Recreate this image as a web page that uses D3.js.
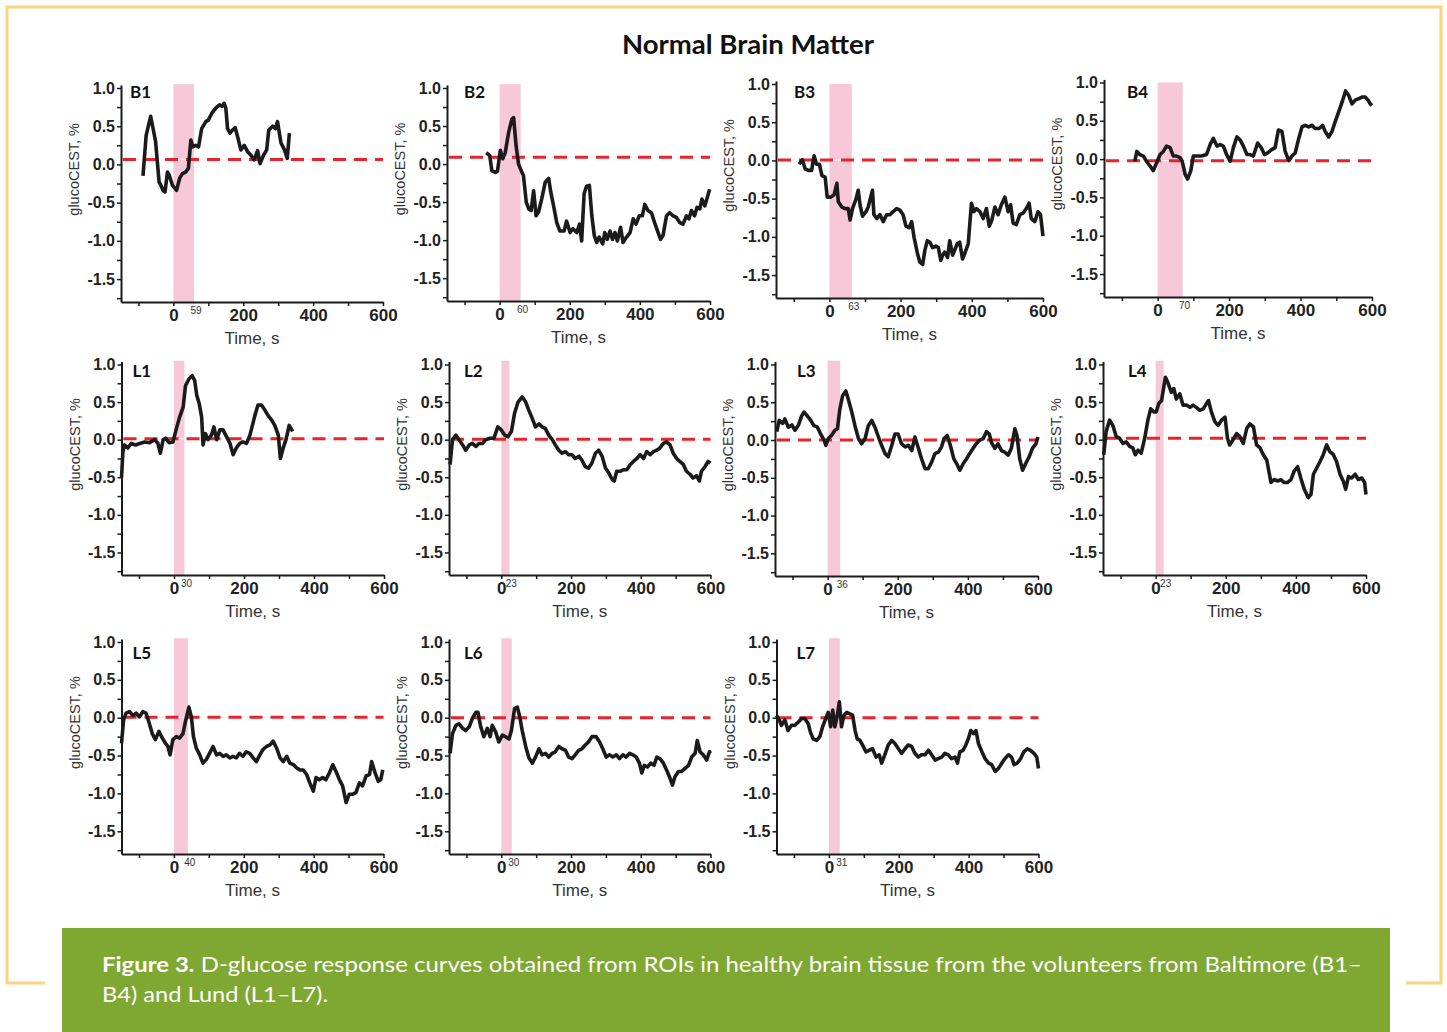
<!DOCTYPE html>
<html>
<head>
<meta charset="utf-8">
<script src="https://cdn.jsdelivr.net/npm/d3@7"></script>
<style>
  body { margin: 0; background: #fff; }
  svg { display: block; }
  .tick text { font-family: "Liberation Sans", Arial, sans-serif; font-weight: bold; font-size: 16px; fill: #222; }
</style>
</head>
<body>
<svg id="fig" width="1447" height="1032"></svg>
<script>
// Panel names, end of glucose infusion (s) and baseline level of the red dashed line
const panelIds = ["B1", "B2", "B3", "B4", "L1", "L2", "L3", "L4", "L5", "L6", "L7"];
const infusionEnd = [59, 60, 63, 70, 30, 23, 36, 23, 40, 30, 31];
const baselineLevel = [0.066, 0.09, 0.004, -0.02, 0.013, 0.005, 0.0, 0.02, 0.005, 0.0, 0.0];

// Axis ticks
const xTickValues = [-100, 0, 100, 200, 300, 400, 500, 600];
const xTickLabels = ["", "0", "", "200", "", "400", "", "600"];
const yTickValues = [-1.75, -1.5, -1.25, -1.0, -0.75, -0.5, -0.25, 0.0, 0.25, 0.5, 0.75, 1.0];
const yTickLabels = ["", "-1.5", "", "-1.0", "", "-0.5", "", "0.0", "", "0.5", "", "1.0"];

// glucoCEST response curves, [time s, glucoCEST %]
const curveB1 = [[-87,-0.15],[-78,0.38],[-65,0.63],[-51,0.30],[-41,-0.23],[-36,-0.27],[-30,-0.34],[-24,-0.36],[-17,-0.10],[-12,-0.14],[-3,-0.27],[9,-0.34],[18,-0.18],[26,-0.12],[35,-0.10],[43,-0.05],[50,0.32],[56,0.23],[64,0.25],[72,0.23],[81,0.47],[93,0.56],[100,0.58],[110,0.67],[122,0.74],[132,0.78],[139,0.76],[145,0.80],[150,0.74],[155,0.47],[162,0.41],[169,0.45],[177,0.48],[184,0.36],[193,0.19],[203,0.25],[212,0.17],[222,0.12],[231,0.06],[241,0.18],[248,0.01],[258,0.12],[267,0.19],[273,0.45],[284,0.50],[292,0.47],[298,0.56],[308,0.28],[318,0.19],[326,0.08],[332,0.41]];
const curveB2 = [[-38,0.15],[-28,0.11],[-22,-0.09],[-12,-0.11],[-6,-0.09],[2,0.18],[9,0.07],[16,0.15],[26,0.42],[35,0.59],[40,0.61],[47,0.24],[54,0.0],[62,-0.09],[68,-0.15],[76,-0.50],[83,-0.59],[90,-0.61],[97,-0.35],[104,-0.68],[111,-0.63],[120,-0.46],[130,-0.24],[140,-0.19],[146,-0.37],[154,-0.55],[163,-0.77],[172,-0.88],[184,-0.88],[191,-0.75],[201,-0.90],[209,-0.85],[220,-0.90],[228,-0.79],[234,-1.01],[241,-0.39],[248,-0.29],[256,-0.28],[263,-0.68],[270,-0.94],[277,-1.03],[284,-0.96],[294,-1.05],[300,-0.90],[307,-0.99],[315,-0.88],[322,-0.99],[329,-0.90],[336,-1.01],[345,-0.83],[352,-1.03],[362,-0.96],[372,-0.90],[381,-0.72],[389,-0.79],[398,-0.68],[407,-0.68],[414,-0.53],[423,-0.61],[433,-0.64],[442,-0.77],[452,-0.90],[459,-0.99],[466,-0.94],[476,-0.68],[485,-0.64],[495,-0.68],[504,-0.70],[514,-0.77],[523,-0.79],[533,-0.68],[540,-0.72],[547,-0.61],[556,-0.68],[563,-0.57],[571,-0.59],[577,-0.46],[585,-0.55],[591,-0.46],[599,-0.33]];
const curveB3 = [[-85,-0.05],[-76,0.01],[-68,-0.11],[-59,-0.13],[-50,-0.13],[-43,0.06],[-36,-0.05],[-28,-0.05],[-21,-0.20],[-12,-0.22],[-6,-0.48],[4,-0.48],[13,-0.45],[21,-0.30],[25,-0.54],[35,-0.61],[44,-0.63],[53,-0.63],[58,-0.78],[65,-0.63],[75,-0.50],[81,-0.39],[86,-0.58],[93,-0.73],[103,-0.67],[109,-0.61],[121,-0.39],[125,-0.71],[133,-0.76],[142,-0.71],[151,-0.80],[161,-0.71],[170,-0.71],[179,-0.67],[189,-0.63],[198,-0.65],[207,-0.71],[215,-0.86],[224,-0.88],[231,-0.80],[238,-1.01],[247,-1.21],[254,-1.33],[262,-1.36],[268,-1.18],[275,-1.05],[282,-1.07],[290,-1.14],[299,-1.12],[306,-1.14],[313,-1.31],[318,-1.24],[324,-1.20],[332,-1.27],[338,-1.05],[346,-1.24],[353,-1.16],[359,-1.09],[366,-1.07],[374,-1.29],[380,-1.22],[390,-1.09],[399,-0.56],[406,-0.67],[413,-0.63],[423,-0.67],[432,-0.76],[441,-0.63],[449,-0.86],[455,-0.80],[465,-0.61],[474,-0.71],[483,-0.58],[493,-0.48],[502,-0.67],[509,-0.58],[516,-0.82],[525,-0.84],[535,-0.71],[544,-0.69],[553,-0.63],[561,-0.56],[567,-0.76],[577,-0.80],[586,-0.67],[593,-0.71],[600,-0.99]];
const curveB4 = [[-64,-0.03],[-58,0.10],[-50,0.06],[-40,0.04],[-31,-0.03],[-21,-0.09],[-12,-0.15],[-3,-0.05],[7,0.06],[16,0.10],[25,0.17],[35,0.15],[44,0.04],[53,0.04],[63,0.02],[69,-0.03],[77,-0.20],[84,-0.26],[93,-0.15],[100,0.04],[109,0.04],[123,0.04],[137,0.06],[147,0.19],[156,0.27],[166,0.17],[175,0.19],[184,0.17],[193,0.06],[203,-0.03],[212,0.15],[222,0.29],[231,0.25],[240,0.17],[250,0.06],[259,0.06],[268,0.04],[280,0.21],[290,0.15],[299,0.06],[308,0.08],[318,0.12],[329,0.15],[338,0.38],[348,0.36],[357,0.10],[367,-0.02],[376,0.04],[385,0.08],[395,0.27],[404,0.42],[413,0.44],[423,0.42],[432,0.44],[441,0.40],[452,0.40],[462,0.44],[469,0.36],[479,0.29],[488,0.36],[497,0.49],[507,0.62],[516,0.74],[526,0.89],[535,0.83],[544,0.72],[553,0.77],[563,0.79],[572,0.81],[581,0.81],[589,0.77],[595,0.72],[600,0.70]];
const curveL1 = [[-150,-0.51],[-146,-0.16],[-141,-0.07],[-132,-0.11],[-122,-0.05],[-110,-0.07],[-98,-0.05],[-84,-0.03],[-70,-0.04],[-55,0.0],[-46,-0.05],[-39,-0.18],[-31,0.0],[-24,0.02],[-14,-0.04],[-3,-0.03],[7,0.15],[16,0.30],[26,0.43],[33,0.72],[43,0.81],[52,0.85],[59,0.79],[65,0.59],[72,0.48],[79,0.30],[83,-0.07],[90,0.08],[97,0.0],[107,0.06],[114,0.17],[122,0.0],[131,0.13],[140,0.13],[150,0.04],[160,-0.05],[169,-0.20],[178,-0.11],[188,-0.05],[197,-0.03],[207,-0.05],[217,0.06],[224,0.19],[231,0.32],[240,0.46],[250,0.46],[260,0.39],[269,0.32],[279,0.26],[288,0.19],[298,0.06],[304,-0.25],[312,-0.11],[320,0.0],[329,0.19],[339,0.11]];
const curveL2 = [[-147,-0.33],[-140,0.0],[-130,0.06],[-121,0.0],[-111,-0.07],[-102,-0.14],[-92,-0.07],[-83,-0.05],[-73,-0.09],[-64,-0.05],[-54,-0.05],[-45,0.0],[-32,0.02],[-21,0.02],[-10,0.17],[0,0.13],[10,0.06],[19,0.04],[29,0.11],[38,0.35],[48,0.50],[60,0.57],[70,0.50],[79,0.39],[89,0.28],[98,0.17],[108,0.21],[117,0.17],[126,0.15],[136,0.06],[146,0.0],[155,-0.07],[165,-0.14],[174,-0.18],[184,-0.16],[193,-0.20],[203,-0.20],[212,-0.25],[223,-0.22],[231,-0.27],[241,-0.36],[250,-0.38],[260,-0.31],[270,-0.18],[279,-0.14],[289,-0.22],[299,-0.38],[308,-0.44],[318,-0.53],[324,-0.55],[331,-0.42],[341,-0.42],[350,-0.40],[360,-0.40],[370,-0.33],[379,-0.29],[389,-0.25],[398,-0.20],[408,-0.25],[417,-0.16],[427,-0.20],[436,-0.16],[446,-0.14],[455,-0.11],[465,-0.05],[474,-0.03],[484,-0.07],[493,-0.18],[503,-0.25],[512,-0.29],[522,-0.33],[531,-0.42],[541,-0.46],[550,-0.51],[560,-0.48],[568,-0.55],[574,-0.42],[584,-0.36],[593,-0.29],[600,-0.31]];
const curveL3 = [[-145,0.11],[-138,0.26],[-128,0.22],[-122,0.28],[-112,0.17],[-102,0.20],[-93,0.13],[-83,0.20],[-74,0.32],[-67,0.37],[-58,0.32],[-48,0.26],[-39,0.19],[-29,0.17],[-20,0.08],[-10,0.0],[-5,-0.07],[2,0.02],[11,0.06],[21,0.13],[28,0.15],[35,0.41],[43,0.59],[52,0.65],[59,0.54],[69,0.37],[78,0.19],[88,0.02],[97,-0.05],[107,0.02],[116,0.19],[126,0.26],[135,0.17],[145,0.04],[154,-0.07],[164,-0.18],[173,-0.22],[183,-0.07],[192,0.08],[201,0.08],[211,-0.05],[221,-0.09],[230,-0.07],[240,-0.14],[249,0.04],[259,-0.11],[268,-0.25],[278,-0.38],[287,-0.38],[297,-0.29],[306,-0.18],[316,-0.16],[325,-0.09],[332,0.02],[341,0.06],[350,-0.07],[360,-0.25],[370,-0.33],[377,-0.40],[387,-0.31],[396,-0.25],[405,-0.18],[415,-0.11],[424,-0.05],[434,0.0],[444,0.02],[453,0.11],[461,0.08],[467,-0.03],[477,-0.11],[486,-0.05],[496,-0.14],[505,-0.16],[515,-0.20],[524,-0.11],[534,0.15],[540,0.06],[548,-0.25],[556,-0.40],[565,-0.31],[575,-0.22],[584,-0.11],[594,-0.05],[600,0.04]];
const curveL4 = [[-148,-0.20],[-141,0.11],[-131,0.26],[-122,0.19],[-112,0.04],[-103,0.02],[-93,-0.05],[-84,-0.03],[-74,-0.09],[-65,-0.11],[-58,-0.20],[-50,-0.14],[-41,-0.18],[-31,0.02],[-22,0.26],[-14,0.41],[-5,0.37],[2,0.37],[9,0.48],[17,0.52],[24,0.72],[28,0.83],[35,0.76],[45,0.63],[52,0.68],[59,0.54],[69,0.61],[78,0.46],[88,0.46],[98,0.43],[107,0.46],[116,0.43],[126,0.39],[136,0.41],[145,0.48],[151,0.52],[159,0.37],[169,0.24],[178,0.19],[188,0.26],[198,0.30],[205,0.02],[211,-0.07],[221,0.0],[231,0.08],[240,0.04],[250,-0.05],[260,0.15],[269,0.21],[279,0.17],[288,-0.07],[298,-0.11],[307,-0.20],[317,-0.27],[323,-0.42],[329,-0.57],[338,-0.53],[348,-0.55],[357,-0.53],[367,-0.57],[376,-0.57],[386,-0.53],[395,-0.42],[405,-0.36],[414,-0.51],[424,-0.66],[435,-0.77],[443,-0.73],[450,-0.46],[459,-0.38],[469,-0.29],[478,-0.20],[488,-0.07],[497,-0.16],[507,-0.20],[516,-0.29],[526,-0.46],[535,-0.55],[542,-0.66],[550,-0.49],[559,-0.51],[569,-0.46],[578,-0.53],[588,-0.51],[596,-0.57],[600,-0.73]];
const curveL5 = [[-150,-0.34],[-144,-0.03],[-137,0.06],[-127,0.08],[-118,0.03],[-108,0.06],[-99,0.01],[-89,0.08],[-80,0.06],[-72,-0.05],[-62,-0.21],[-53,-0.29],[-43,-0.18],[-33,-0.27],[-24,-0.34],[-17,-0.38],[-11,-0.49],[-3,-0.29],[7,-0.25],[16,-0.27],[26,-0.21],[33,-0.05],[43,0.14],[50,0.01],[56,-0.25],[64,-0.40],[74,-0.49],[83,-0.60],[93,-0.55],[102,-0.47],[112,-0.38],[122,-0.49],[131,-0.47],[141,-0.51],[150,-0.49],[160,-0.53],[169,-0.51],[179,-0.53],[188,-0.47],[198,-0.51],[207,-0.45],[217,-0.47],[227,-0.53],[236,-0.58],[246,-0.49],[255,-0.42],[265,-0.38],[275,-0.36],[284,-0.31],[294,-0.40],[304,-0.53],[313,-0.58],[323,-0.51],[332,-0.60],[342,-0.62],[351,-0.66],[361,-0.69],[370,-0.69],[380,-0.75],[389,-0.86],[399,-0.97],[407,-0.79],[416,-0.82],[426,-0.79],[435,-0.82],[445,-0.73],[455,-0.62],[464,-0.71],[474,-0.82],[483,-0.90],[493,-1.12],[502,-1.01],[512,-1.01],[521,-0.99],[531,-0.86],[540,-0.90],[550,-0.77],[560,-0.75],[566,-0.58],[576,-0.73],[585,-0.84],[592,-0.82],[598,-0.69]];
const curveL6 = [[-147,-0.47],[-140,-0.21],[-130,-0.10],[-121,-0.08],[-111,-0.14],[-102,-0.17],[-92,-0.12],[-83,-0.01],[-73,0.07],[-67,0.07],[-59,-0.12],[-50,-0.25],[-40,-0.14],[-32,-0.25],[-26,-0.10],[-16,-0.19],[-7,-0.32],[3,-0.23],[12,-0.25],[22,-0.28],[29,-0.17],[38,0.12],[46,0.14],[53,0.01],[60,-0.17],[70,-0.38],[79,-0.53],[89,-0.60],[98,-0.52],[108,-0.41],[117,-0.49],[127,-0.47],[136,-0.52],[146,-0.47],[155,-0.45],[165,-0.38],[174,-0.41],[184,-0.43],[193,-0.52],[203,-0.54],[212,-0.49],[222,-0.43],[231,-0.41],[241,-0.36],[250,-0.32],[260,-0.25],[272,-0.25],[282,-0.32],[291,-0.41],[301,-0.52],[310,-0.49],[320,-0.52],[330,-0.49],[339,-0.54],[349,-0.49],[358,-0.52],[368,-0.47],[377,-0.49],[387,-0.52],[396,-0.60],[403,-0.73],[410,-0.63],[419,-0.65],[429,-0.60],[438,-0.63],[446,-0.52],[455,-0.54],[465,-0.60],[474,-0.69],[484,-0.80],[491,-0.89],[498,-0.78],[508,-0.71],[517,-0.71],[527,-0.67],[537,-0.63],[546,-0.52],[556,-0.47],[562,-0.30],[570,-0.45],[579,-0.49],[589,-0.56],[597,-0.45],[600,-0.47]];
const curveL7 = [[-150,0.03],[-142,-0.03],[-136,-0.10],[-126,-0.03],[-117,-0.17],[-107,-0.10],[-98,-0.10],[-88,-0.06],[-78,-0.01],[-69,-0.01],[-59,-0.08],[-53,-0.19],[-45,-0.28],[-35,-0.30],[-26,-0.25],[-18,-0.12],[-9,-0.01],[-2,0.07],[5,-0.12],[11,0.10],[17,-0.12],[24,0.03],[30,0.21],[36,-0.12],[43,0.03],[51,0.07],[60,0.05],[68,0.03],[75,-0.17],[81,-0.28],[89,-0.30],[96,-0.36],[106,-0.45],[115,-0.43],[125,-0.41],[135,-0.52],[144,-0.49],[151,-0.60],[160,-0.49],[170,-0.36],[180,-0.30],[189,-0.34],[199,-0.41],[208,-0.47],[218,-0.41],[227,-0.36],[237,-0.38],[246,-0.47],[256,-0.52],[265,-0.49],[275,-0.49],[285,-0.43],[294,-0.49],[304,-0.56],[313,-0.54],[323,-0.52],[332,-0.47],[342,-0.49],[351,-0.54],[361,-0.52],[368,-0.60],[375,-0.45],[384,-0.43],[392,-0.36],[399,-0.28],[406,-0.17],[414,-0.21],[421,-0.17],[428,-0.34],[438,-0.45],[447,-0.54],[457,-0.60],[466,-0.62],[476,-0.71],[485,-0.67],[495,-0.60],[504,-0.54],[514,-0.49],[523,-0.52],[530,-0.62],[539,-0.60],[549,-0.54],[558,-0.45],[568,-0.41],[577,-0.43],[587,-0.47],[595,-0.52],[600,-0.67]];

const curves = [curveB1, curveB2, curveB3, curveB4, curveL1, curveL2, curveL3, curveL4, curveL5, curveL6, curveL7];

// Plot frames on the page: [left, right, y of 1.0, bottom]
const frames = [
  [121, 383, 88, 302], [447, 710, 88, 301], [776, 1043, 84, 298], [1104, 1372, 82.5, 297],
  [121.5, 384, 364.5, 575], [449, 710.5, 364.5, 575], [775, 1038, 364.5, 576], [1103, 1366, 364.5, 575],
  [121.5, 383.5, 642, 854], [449, 710.5, 642, 854], [776.5, 1038.5, 642, 854]
];
const labelDx = [9, 17, 18, 23, 11, 15, 22, 25, 11, 15, 20];
const labelY = [98, 98, 98, 98, 377, 377, 377, 377, 659, 659, 659];

var svg = d3.select("#fig");

// Page frame
svg.append("path")
  .attr("d", "M45,983 H7 V7 H1441 V983 H1406")
  .attr("fill", "none")
  .attr("stroke", "#fcd47e")
  .attr("stroke-width", 3);

svg.append("text")
  .attr("x", 748)
  .attr("y", 54)
  .attr("text-anchor", "middle")
  .style("font-family", "Lato, 'Open Sans', sans-serif")
  .style("font-weight", "bold")
  .style("font-size", "27.5px")
  .attr("fill", "#111")
  .text("Normal Brain Matter");

function drawPanel(i) {
  let [left, right, top1, bottom] = frames[i];
  let ppu = (bottom - top1) / 2.8;
  let x = d3.scaleLinear().domain([-150, 600]).range([left, right]);
  let y = d3.scaleLinear().domain([-1.8, 1.04]).range([bottom, top1 - 0.04 * ppu]);

  let g = svg.append("g").attr("class", "panel");

  // infusion period
  g.append("rect")
    .attr("x", x(0))
    .attr("y", y(i === 2 || i === 3 ? 1.0 : 1.05))
    .attr("width", x(infusionEnd[i]) - x(0))
    .attr("height", y(-1.8) - y(i === 2 || i === 3 ? 1.0 : 1.05))
    .attr("fill", "#f7c9d8");

  // baseline
  g.append("line")
    .attr("x1", x(-150)).attr("x2", x(600))
    .attr("y1", y(baselineLevel[i])).attr("y2", y(baselineLevel[i]))
    .attr("stroke", "#f3f3f3").attr("stroke-width", 1.2);
  g.append("line")
    .attr("x1", x(-150) + 2).attr("x2", x(600))
    .attr("y1", y(baselineLevel[i])).attr("y2", y(baselineLevel[i]))
    .attr("stroke", "#e8232a").attr("stroke-width", 3)
    .attr("stroke-dasharray", "13,8");

  // response curve
  let line = d3.line().x(d => x(d[0])).y(d => y(d[1]));
  g.append("path")
    .datum(curves[i])
    .attr("d", line)
    .attr("fill", "none")
    .attr("stroke", "#1b1b1b")
    .attr("stroke-width", 3.6)
    .attr("stroke-linejoin", "round");

  // axes
  let xAxis = d3.axisBottom(x)
    .tickValues(xTickValues)
    .tickFormat((d, k) => xTickLabels[k])
    .tickSize(4).tickSizeOuter(0).tickPadding(3);
  let yAxis = d3.axisLeft(y)
    .tickValues(yTickValues)
    .tickFormat((d, k) => yTickLabels[k])
    .tickSize(4).tickSizeOuter(0).tickPadding(2);

  let gx = g.append("g").attr("transform", "translate(0," + bottom + ")").call(xAxis);
  let gy = g.append("g").attr("transform", "translate(" + left + ",0)").call(yAxis);
  [gx, gy].forEach(a => {
    a.select(".domain").attr("stroke", "#1b1b1b").attr("stroke-width", 2);
    a.selectAll(".tick line").attr("stroke", "#1b1b1b").attr("stroke-width", 1.5);
  });
  gx.selectAll(".tick text").style("font-size", "17px");

  // end of infusion label
  g.append("text")
    .attr("x", x(infusionEnd[i]) + 2)
    .attr("y", bottom + 12)
    .attr("text-anchor", "middle")
    .style("font-family", "'Liberation Sans', Arial, sans-serif")
    .style("font-size", "10px")
    .attr("fill", "#333")
    .text(infusionEnd[i]);

  // axis titles
  g.append("text")
    .attr("x", (left + right) / 2)
    .attr("y", bottom + 42)
    .attr("text-anchor", "middle")
    .style("font-family", "'Liberation Sans', Arial, sans-serif")
    .style("font-size", "17px")
    .attr("fill", "#333")
    .text("Time, s");

  g.append("text")
    .attr("transform", "translate(" + (left - 42) + "," + (top1 + 0.38 * (bottom - top1)) + ") rotate(-90)")
    .attr("text-anchor", "middle")
    .style("font-family", "'Liberation Sans', Arial, sans-serif")
    .style("font-size", "14.5px")
    .attr("fill", "#333")
    .text("glucoCEST, %");

  // panel label
  g.append("text")
    .attr("x", left + labelDx[i])
    .attr("y", labelY[i])
    .style("font-family", "Lato, 'Open Sans', sans-serif")
    .style("font-weight", "bold")
    .style("font-size", "17px")
    .attr("fill", "#111")
    .text(panelIds[i]);
}

panelIds.forEach((id, i) => drawPanel(i));

// Caption box
svg.append("rect")
  .attr("x", 62).attr("y", 928)
  .attr("width", 1328).attr("height", 104)
  .attr("fill", "#7ea832");

let caption1 = svg.append("text")
  .attr("x", 102).attr("y", 972)
  .attr("textLength", 1260)
  .attr("lengthAdjust", "spacingAndGlyphs")
  .style("font-family", "Lato, sans-serif")
  .style("font-size", "21px")
  .attr("fill", "#fff");
caption1.append("tspan").style("font-weight", "bold").text("Figure 3.");
caption1.append("tspan").text(" D-glucose response curves obtained from ROIs in healthy brain tissue from the volunteers from Baltimore (B1\u2013");

svg.append("text")
  .attr("x", 102).attr("y", 1002)
  .attr("textLength", 226)
  .attr("lengthAdjust", "spacingAndGlyphs")
  .style("font-family", "Lato, sans-serif")
  .style("font-size", "21px")
  .attr("fill", "#fff")
  .text("B4) and Lund (L1\u2013L7).");
</script>
</body>
</html>
